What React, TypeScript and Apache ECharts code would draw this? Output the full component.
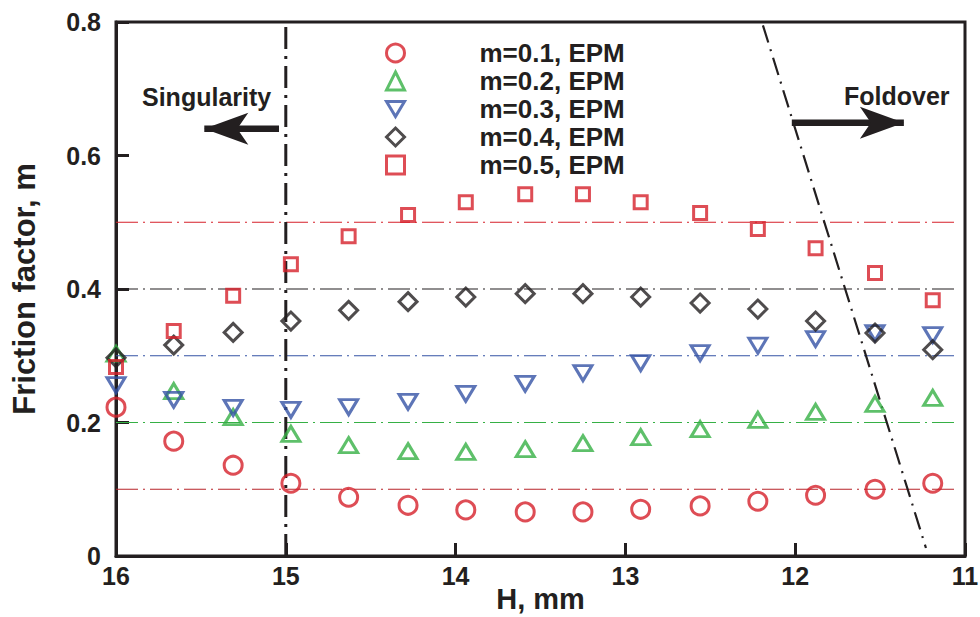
import React, { useEffect, useRef } from 'react';
import * as echarts from 'echarts';

// ---- data ----
const H = [16.0, 15.66, 15.31, 14.97, 14.63, 14.28, 13.94, 13.59, 13.25, 12.91, 12.56, 12.22, 11.88, 11.53, 11.19];
const M01 = [0.223, 0.172, 0.136, 0.109, 0.088, 0.076, 0.069, 0.066, 0.066, 0.07, 0.075, 0.082, 0.091, 0.1, 0.109];
const M02 = [0.303, 0.247, 0.208, 0.183, 0.166, 0.157, 0.156, 0.16, 0.169, 0.178, 0.19, 0.204, 0.216, 0.228, 0.237];
const M03 = [0.256, 0.234, 0.222, 0.219, 0.223, 0.231, 0.243, 0.258, 0.274, 0.289, 0.304, 0.315, 0.325, 0.334, 0.331];
const M04 = [0.297, 0.316, 0.335, 0.352, 0.368, 0.381, 0.388, 0.393, 0.393, 0.388, 0.379, 0.37, 0.352, 0.334, 0.309];
const M05 = [0.283, 0.337, 0.39, 0.437, 0.479, 0.511, 0.53, 0.542, 0.542, 0.53, 0.514, 0.49, 0.461, 0.424, 0.383];

const SERIES_NAMES = ['m=0.1, EPM', 'm=0.2, EPM', 'm=0.3, EPM', 'm=0.4, EPM', 'm=0.5, EPM'];
const REF_LEVELS = [0.1, 0.2, 0.3, 0.4, 0.5];
const REF_X = [16, 11.05];
const SINGULARITY_X = 15;
const Y_RANGE = [0, 0.8];
const FOLDOVER_LINE = [[12.19, 0.795], [11.23, 0.012]];
const SINGULARITY_ARROW = [[15.04, 0.64], [15.48, 0.64]];
const FOLDOVER_ARROW = [[12.02, 0.649], [11.36, 0.649]];

const FONT = 'Liberation Sans, Arial, sans-serif';
const INK = '#231f20';
const RED = '#d6202a';
const GREEN = '#36b045';
const BLUE = '#3553a5';
const REF_COLORS = ['#b8252b', GREEN, BLUE, INK, RED];

export default function App() {
  const ref = useRef<HTMLDivElement>(null);
  useEffect(() => {
    if (!ref.current) return;
    const chart = echarts.init(ref.current, undefined, { renderer: 'svg' });
    const seriesData = [M01, M02, M03, M04, M05];
    const markerDefs = [
      { symbol: 'circle', size: 18, rotate: 0, color: RED },
      { symbol: 'triangle', size: [18, 15], rotate: 0, color: GREEN },
      { symbol: 'triangle', size: [18, 15], rotate: 180, color: BLUE },
      { symbol: 'diamond', size: 18, rotate: 0, color: INK },
      { symbol: 'rect', size: 13, rotate: 0, color: RED },
    ];
    const legendIcons = ['circle', 'triangle', 'path://M0,0L18,0L9,15Z', 'diamond', 'rect'];

    const refSeries = REF_LEVELS.map((lv, i) => ({
      type: 'line',
      silent: true,
      symbol: 'none',
      clip: false,
      data: REF_X.map((x) => [x, lv]),
      lineStyle: { color: REF_COLORS[i], width: 1.2, type: [22, 5, 2, 5] },
      z: 1,
    }));

    const arrowSeries = [SINGULARITY_ARROW, FOLDOVER_ARROW].map((pts, i) => ({
      type: 'line',
      silent: true,
      clip: false,
      data: pts,
      showSymbol: true,
      symbol: (_v: any, p: any) => (p.dataIndex === 1 ? 'arrow' : 'none'),
      symbolSize: [24, 44],
      symbolRotate: i === 0 ? 90 : -90,
      itemStyle: { color: INK },
      lineStyle: { color: INK, width: 6.5 },
      z: 3,
    }));

    const scatterSeries = SERIES_NAMES.map((name, i) => ({
      type: 'scatter',
      name,
      clip: false,
      symbol: markerDefs[i].symbol,
      symbolSize: markerDefs[i].size,
      symbolRotate: markerDefs[i].rotate,
      data: H.map((h, k) => [h, seriesData[i][k]]),
      itemStyle: { color: 'rgba(255,255,255,0)', borderColor: markerDefs[i].color, borderWidth: 3 },
      z: 4,
    }));

    const axisCommon = {
      axisLine: { lineStyle: { color: INK, width: 3 } },
      axisTick: { inside: true, length: 13, lineStyle: { color: INK, width: 3 } },
      splitLine: { show: false },
      nameMoveOverlap: false,
    };

    chart.setOption({
      animation: false,
      backgroundColor: '#ffffff',
      grid: {
        left: 116,
        right: 15,
        top: 22,
        bottom: 61,
        show: true,
        borderColor: INK,
        borderWidth: 3,
        outerBoundsMode: 'none',
        containLabel: false,
      },
      xAxis: {
        type: 'value',
        min: 11,
        max: 16,
        interval: 1,
        inverse: true,
        name: 'H, mm',
        nameLocation: 'middle',
        nameGap: 28,
        nameTextStyle: { fontSize: 29, lineHeight: 29, fontWeight: 'bold', fontFamily: FONT, color: INK },
        ...axisCommon,
        axisLabel: { fontSize: 25, fontWeight: 'bold', fontFamily: FONT, color: INK, margin: 7 },
      },
      yAxis: {
        type: 'value',
        min: Y_RANGE[0],
        max: Y_RANGE[1],
        interval: 0.2,
        name: 'Friction factor, m',
        nameLocation: 'middle',
        nameGap: 76,
        nameTextStyle: { fontSize: 31, fontWeight: 'bold', fontFamily: FONT, color: INK },
        ...axisCommon,
        axisLabel: {
          fontSize: 25,
          fontWeight: 'bold',
          fontFamily: FONT,
          color: INK,
          margin: 15,
          formatter: (v: number) => (v === 0 ? '0' : v.toFixed(1)),
        },
      },
      legend: {
        orient: 'vertical',
        left: 385,
        top: 39,
        padding: 0,
        itemGap: 0,
        itemWidth: 18,
        itemHeight: 18,
        itemStyle: { borderWidth: 3 },
        data: SERIES_NAMES.map((name, i) => ({ name, icon: legendIcons[i] })),
        textStyle: {
          fontSize: 26,
          fontWeight: 'bold',
          fontFamily: FONT,
          color: INK,
          lineHeight: 28,
          padding: [0, 0, 0, 70],
        },
      },
      graphic: [
        {
          type: 'text',
          left: 142,
          top: 84,
          style: { text: 'Singularity', fontSize: 25, fontWeight: 'bold', fontFamily: FONT, fill: INK },
        },
        {
          type: 'text',
          left: 844,
          top: 83,
          style: { text: 'Foldover', fontSize: 25, fontWeight: 'bold', fontFamily: FONT, fill: INK },
        },
      ],
      series: [
        ...refSeries,
        {
          type: 'line',
          silent: true,
          symbol: 'none',
          clip: false,
          data: Y_RANGE.map((y) => [SINGULARITY_X, y]),
          lineStyle: { color: INK, width: 3, type: [22, 7, 3, 7] },
          z: 2,
        },
        {
          type: 'line',
          silent: true,
          symbol: 'none',
          clip: false,
          data: FOLDOVER_LINE,
          lineStyle: { color: INK, width: 2.2, type: [18, 7, 2, 7] },
          z: 2,
        },
        ...arrowSeries,
        ...scatterSeries,
      ],
    });
    return () => chart.dispose();
  }, []);
  return <div ref={ref} style={{ position: 'fixed', left: 0, top: 0, width: 980, height: 617 }} />;
}
